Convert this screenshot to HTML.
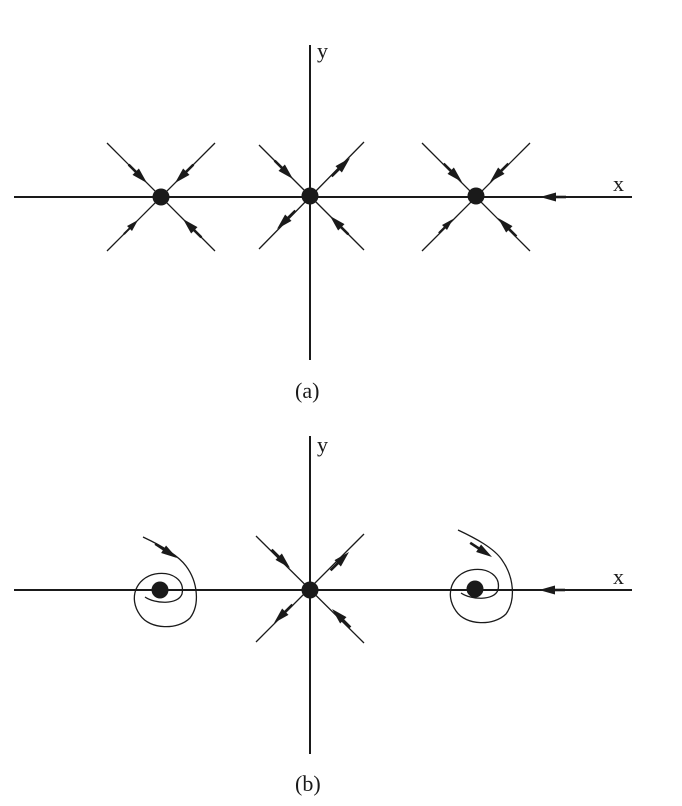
<!DOCTYPE html>
<html><head><style>html,body{margin:0;padding:0;background:#fff}svg{display:block}</style></head>
<body>
<svg width="682" height="806" viewBox="0 0 682 806" xmlns="http://www.w3.org/2000/svg">
<defs>
<g id="ah"><polygon points="0,0 -16,-4.5 -16,4.5" fill="#1a1a1a"/><line x1="-14" y1="0" x2="-26" y2="0" stroke="#1a1a1a" stroke-width="2.6"/></g>
<g id="as"><polygon points="0,0 -12,-3.5 -12,3.5" fill="#1a1a1a"/><line x1="-10" y1="0" x2="-20" y2="0" stroke="#1a1a1a" stroke-width="2"/></g>
</defs>
<g stroke="#1a1a1a" fill="none">
<line x1="14" y1="197" x2="632" y2="197" stroke-width="2"/>
<line x1="310" y1="45" x2="310" y2="360" stroke-width="2"/>
<g stroke-width="1.3">
<line x1="107" y1="143" x2="215" y2="251"/><line x1="215" y1="143" x2="107" y2="251"/>
<line x1="259" y1="145" x2="364" y2="250"/><line x1="364" y1="142" x2="259" y2="249"/>
<line x1="422" y1="143" x2="530" y2="251"/><line x1="530" y1="143" x2="422" y2="251"/>
</g>
<line x1="14" y1="590" x2="632" y2="590" stroke-width="2"/>
<line x1="310" y1="436" x2="310" y2="754" stroke-width="2"/>
<g stroke-width="1.3">
<line x1="256" y1="536" x2="364" y2="643"/><line x1="364" y1="534" x2="256" y2="642"/>
<path d="M143,537 C160,545 178,555 186,566 C198,582 200,605 190,618 C178,630 150,630 140,615 C128,598 136,578 155,574 C172,571 185,580 182,594 C178,605 155,604 145,597"/>
<path d="M458,530 C475,538 494,548 502,560 C514,577 516,600 506,614 C494,626 466,626 456,611 C444,594 452,574 471,570 C488,567 501,576 498,590 C494,601 471,600 461,593"/>
</g>
</g>
<g fill="#1a1a1a">
<circle cx="161" cy="197" r="8.5"/><circle cx="310" cy="196" r="8.5"/><circle cx="476" cy="196" r="8.5"/>
<circle cx="310" cy="590" r="8.5"/><circle cx="160" cy="590" r="8.5"/><circle cx="475" cy="589" r="8.5"/>
</g>
<use href="#ah" transform="translate(147,183) rotate(45)"/>
<use href="#ah" transform="translate(175,183) rotate(135)"/>
<use href="#as" transform="translate(138,220) rotate(-45)"/>
<use href="#ah" transform="translate(183,219) rotate(225)"/>
<use href="#ah" transform="translate(293,179) rotate(45)"/>
<use href="#ah" transform="translate(350,158) rotate(-45)"/>
<use href="#ah" transform="translate(277,229) rotate(135)"/>
<use href="#ah" transform="translate(330,216) rotate(225)"/>
<use href="#ah" transform="translate(462,182) rotate(45)"/>
<use href="#ah" transform="translate(490,182) rotate(135)"/>
<use href="#as" transform="translate(453,219) rotate(-45)"/>
<use href="#ah" transform="translate(498,218) rotate(225)"/>
<use href="#ah" transform="translate(540,197) rotate(180)"/>
<use href="#ah" transform="translate(290,568) rotate(45)"/>
<use href="#ah" transform="translate(349,552) rotate(-45)"/>
<use href="#ah" transform="translate(274,623) rotate(135)"/>
<use href="#ah" transform="translate(332,609) rotate(225)"/>
<use href="#ah" transform="translate(177,558) rotate(33)"/>
<use href="#ah" transform="translate(492,557) rotate(33)"/>
<use href="#ah" transform="translate(539,590) rotate(180)"/>
<g font-family="Liberation Serif, serif" font-size="22" fill="#1a1a1a">
<text x="317" y="58">y</text>
<text x="613" y="191">x</text>
<text x="295" y="398">(a)</text>
<text x="317" y="452">y</text>
<text x="613" y="584">x</text>
<text x="295" y="791">(b)</text>
</g>
</svg>
</body></html>
